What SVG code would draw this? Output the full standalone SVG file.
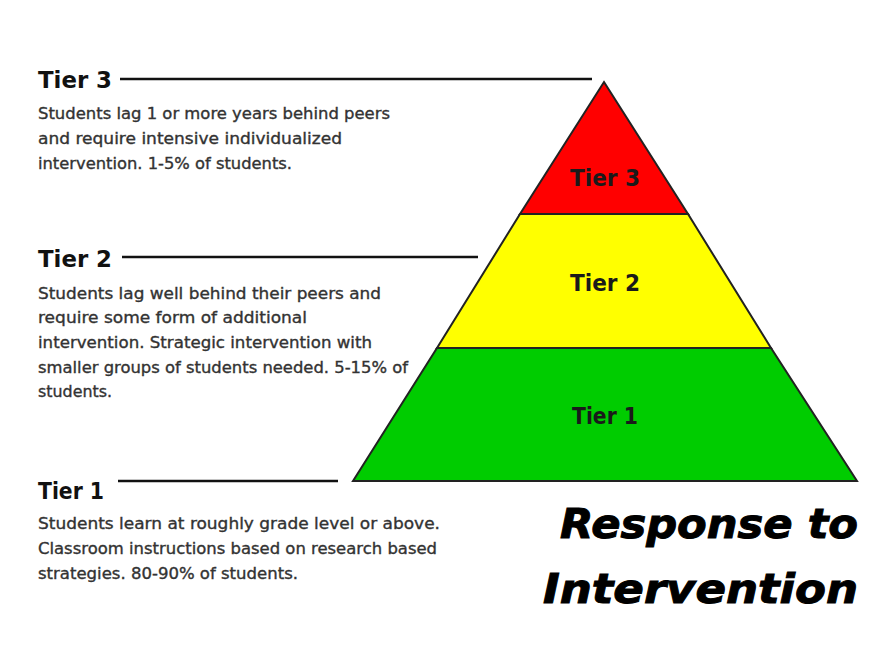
<svg xmlns="http://www.w3.org/2000/svg" width="877" height="657" viewBox="0 0 877 657">
<style>
.h{font-family:"DejaVu Sans",sans-serif;font-size:23px;font-weight:600;fill:#111}
.b{font-family:"DejaVu Sans",sans-serif;font-size:15.5px;font-weight:normal;fill:#333;stroke:#333;stroke-width:0.35}
.t{font-family:"DejaVu Sans",sans-serif;font-size:23px;font-weight:600;fill:#1a1a1a;text-anchor:middle}
.title{font-family:"DejaVu Sans",sans-serif;font-size:40px;font-weight:bold;font-style:italic;fill:#000;stroke:#000;stroke-width:1}
.ln{stroke:#111;stroke-width:2.5;fill:none}
.tier{stroke:#222;stroke-width:2}
</style>
<rect width="877" height="657" fill="#fff"/>
<g id="connectors">
<line class="ln" x1="120" y1="79" x2="592" y2="79"/>
<line class="ln" x1="122" y1="257" x2="478" y2="257"/>
<line class="ln" x1="118" y1="481" x2="338" y2="481"/>
</g>
<g id="pyr-tier1">
<polygon class="tier" points="437,348 771,348 857,481 353,481" fill="#00cc00"/>
<text class="t" x="605" y="424" textLength="66" lengthAdjust="spacingAndGlyphs">Tier 1</text>
</g>
<g id="pyr-tier2">
<polygon class="tier" points="520,214 688,214 771,348 437,348" fill="#ffff00"/>
<text class="t" x="605" y="291" textLength="70" lengthAdjust="spacingAndGlyphs">Tier 2</text>
</g>
<g id="pyr-tier3">
<polygon class="tier" points="604,82 688,214 520,214" fill="#ff0000"/>
<text class="t" x="605" y="186" textLength="70" lengthAdjust="spacingAndGlyphs">Tier 3</text>
</g>
<g id="label-tier3">
<text class="h" x="38" y="88" textLength="74" lengthAdjust="spacingAndGlyphs">Tier 3</text>
<text class="b" x="38" y="119" textLength="352" lengthAdjust="spacingAndGlyphs">Students lag 1 or more years behind peers</text>
<text class="b" x="38" y="144" textLength="304" lengthAdjust="spacingAndGlyphs">and require intensive individualized</text>
<text class="b" x="38" y="169" textLength="254" lengthAdjust="spacingAndGlyphs">intervention. 1-5% of students.</text>
</g>
<g id="label-tier2">
<text class="h" x="38" y="267" textLength="74" lengthAdjust="spacingAndGlyphs">Tier 2</text>
<text class="b" x="38" y="299" textLength="343" lengthAdjust="spacingAndGlyphs">Students lag well behind their peers and</text>
<text class="b" x="38" y="323" textLength="269" lengthAdjust="spacingAndGlyphs">require some form of additional</text>
<text class="b" x="38" y="348" textLength="334" lengthAdjust="spacingAndGlyphs">intervention. Strategic intervention with</text>
<text class="b" x="38" y="373" textLength="370" lengthAdjust="spacingAndGlyphs">smaller groups of students needed. 5-15% of</text>
<text class="b" x="38" y="397" textLength="74" lengthAdjust="spacingAndGlyphs">students.</text>
</g>
<g id="label-tier1">
<text class="h" x="38" y="499" textLength="66" lengthAdjust="spacingAndGlyphs">Tier 1</text>
<text class="b" x="38" y="529" textLength="402" lengthAdjust="spacingAndGlyphs">Students learn at roughly grade level or above.</text>
<text class="b" x="38" y="554" textLength="399" lengthAdjust="spacingAndGlyphs">Classroom instructions based on research based</text>
<text class="b" x="38" y="579" textLength="260" lengthAdjust="spacingAndGlyphs">strategies. 80-90% of students.</text>
</g>
<g id="title">
<text class="title" x="560" y="538" textLength="298" lengthAdjust="spacingAndGlyphs">Response to</text>
<text class="title" x="543" y="603" textLength="315" lengthAdjust="spacingAndGlyphs">Intervention</text>
</g>
</svg>
